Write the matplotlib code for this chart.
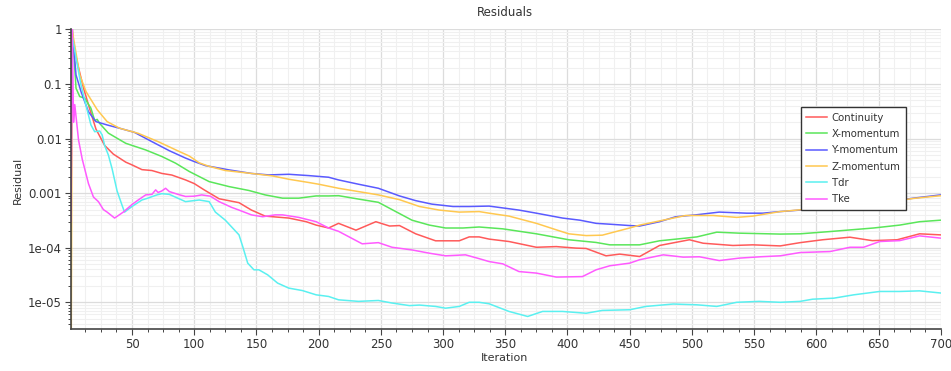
#!/usr/bin/env python3
"""
Grafico de residuos da simulacao (escala log) salvo em out.png.
"""

import matplotlib
matplotlib.use("Agg")
import matplotlib.pyplot as plt
from matplotlib.ticker import FuncFormatter, LogLocator, MultipleLocator, NullFormatter

# Continuity
cont_iter = [1, 3, 7, 11, 16, 21, 28, 35, 45, 50, 58, 66, 74, 82, 93, 100, 108, 120,
             136, 146, 157, 176, 190, 198, 208, 216, 230, 246, 257, 265, 278, 294,
             313, 321, 329, 337, 353, 375, 391, 407, 415, 431, 442, 458, 474, 498,
             509, 533, 549, 571, 587, 605, 627, 645, 665, 683, 700]
cont_res = [1.0, 0.5, 0.2, 0.085, 0.035, 0.015, 0.0075, 0.0052, 0.0037, 0.0033,
            0.0027, 0.0026, 0.0023, 0.00215, 0.00175, 0.0015, 0.00115, 0.00079,
            0.00067, 0.00049, 0.00038, 0.00035, 0.0003, 0.00026, 0.00023, 0.00028,
            0.00021, 0.0003, 0.00025, 0.000255, 0.00018, 0.000134, 0.000134,
            0.000158, 0.000158, 0.000144, 0.00013, 0.000102, 0.000105, 0.0000984,
            0.000097, 0.0000711, 0.0000764, 0.000069, 0.00011, 0.00014, 0.000121,
            0.00011, 0.000113, 0.000108, 0.000124, 0.00014, 0.000156, 0.000135,
            0.00014, 0.00018, 0.000172]

# X-momentum
xmom_iter = [1, 3, 5, 8, 12, 17, 20, 22, 24, 31, 45, 61, 74, 85, 96, 112, 128, 144,
             157, 171, 184, 198, 208, 216, 232, 248, 262, 275, 289, 302, 316, 329,
             348, 375, 401, 423, 434, 458, 474, 495, 504, 520, 538, 571, 587, 611,
             646, 667, 683, 700]
xmom_res = [1.0, 0.45, 0.084, 0.059, 0.055, 0.036, 0.0215, 0.0225, 0.019, 0.0126,
            0.0082, 0.0062, 0.0047, 0.00355, 0.0025, 0.00163, 0.00132, 0.00112,
            0.00093, 0.00081, 0.00081, 0.00089, 0.00089, 0.0009, 0.00078, 0.00068,
            0.00046, 0.00032, 0.00026, 0.00023, 0.00023, 0.00024, 0.000222, 0.00018,
            0.00014, 0.000125, 0.000113, 0.000113, 0.000134, 0.00015, 0.000158,
            0.000193, 0.000185, 0.000178, 0.00018, 0.000198, 0.00023, 0.00026,
            0.0003, 0.00032]

# Y-momentum
ymom_iter = [1, 2, 3, 5, 9, 15, 21, 30, 40, 52, 66, 80, 93, 100, 109, 128, 146, 160,
             176, 192, 208, 216, 232, 248, 265, 278, 291, 308, 321, 337, 361, 375,
             396, 410, 423, 434, 450, 458, 474, 487, 503, 522, 544, 557, 571, 597,
             624, 651, 678, 700]
ymom_res = [6e-4, 1.0, 0.52, 0.147, 0.073, 0.031, 0.0205, 0.0178, 0.0155, 0.013,
            0.0088, 0.006, 0.0044, 0.0038, 0.0032, 0.00267, 0.0023, 0.00216,
            0.00222, 0.0021, 0.00196, 0.00175, 0.00146, 0.00123, 0.00089, 0.00073,
            0.00063, 0.00057, 0.00057, 0.00058, 0.00049, 0.00043, 0.00035, 0.00032,
            0.00028, 0.00027, 0.000255, 0.00025, 0.0003, 0.00037, 0.0004, 0.00045,
            0.00043, 0.00043, 0.00046, 0.00051, 0.00057, 0.00066, 0.00081, 0.00093]

# Z-momentum
zmom_iter = [1, 2, 3, 8, 13, 22, 30, 40, 55, 71, 88, 96, 104, 112, 125, 146, 163,
             176, 192, 200, 216, 232, 248, 265, 281, 297, 313, 329, 337, 353, 375,
             391, 401, 415, 428, 439, 450, 458, 474, 495, 517, 536, 549, 571, 597,
             624, 651, 678, 700]
zmom_res = [1e-7, 1.0, 0.69, 0.147, 0.073, 0.034, 0.0205, 0.0155, 0.0125, 0.0088,
            0.0058, 0.0048, 0.0036, 0.0031, 0.0026, 0.0023, 0.00207, 0.0018,
            0.00157, 0.00146, 0.00123, 0.00107, 0.00093, 0.00076, 0.00057, 0.00049,
            0.00045, 0.00046, 0.00043, 0.00038, 0.00028, 0.000213, 0.00018,
            0.000167, 0.00017, 0.000198, 0.00023, 0.00026, 0.00031, 0.00039,
            0.00039, 0.00036, 0.00038, 0.00046, 0.00052, 0.00058, 0.00066, 0.0008,
            0.0009]

# Tdr
tdr_iter = [1, 5, 9, 13, 17, 20, 24, 26, 28, 31, 34, 38, 42, 44, 50, 58, 62, 70, 74,
            80, 93, 104, 112, 117, 125, 136, 139, 143, 148, 152, 159, 167, 176, 187,
            198, 208, 216, 232, 248, 259, 273, 281, 294, 302, 313, 321, 329, 337,
            353, 368, 380, 396, 415, 428, 450, 463, 485, 504, 520, 536, 554, 571,
            587, 597, 614, 630, 651, 667, 683, 700]
tdr_res = [1.0, 0.3, 0.096, 0.041, 0.0178, 0.0134, 0.0138, 0.0117, 0.0075, 0.005,
           0.0028, 0.0011, 0.0006, 0.00045, 0.00057, 0.00075, 0.0008, 0.00093,
           0.00098, 0.00095, 0.0007, 0.00075, 0.0007, 0.00045, 0.00032, 0.000172,
           0.000105, 0.0000522, 0.0000394, 0.0000394, 0.0000319, 0.0000225,
           0.0000182, 0.0000164, 0.0000137, 0.0000128, 0.0000111, 0.0000104,
           0.0000108, 0.0000097, 0.0000087, 0.0000089, 0.0000084, 0.0000078,
           0.0000084, 0.00001, 0.00001, 0.0000094, 0.0000068, 0.0000055, 0.0000068,
           0.0000068, 0.0000063, 0.0000071, 0.0000073, 0.0000084, 0.0000093,
           0.000009, 0.0000084, 0.00001, 0.0000104, 0.00001, 0.0000104, 0.0000114,
           0.0000119, 0.0000137, 0.0000158, 0.0000158, 0.0000162, 0.0000148]

# Tke
tke_iter = [1, 2, 3, 4, 7, 10, 15, 19, 23, 27, 30, 36, 43, 50, 55, 61, 66, 69, 71,
            74, 77, 80, 87, 93, 100, 106, 113, 120, 130, 136, 146, 155, 165, 171,
            184, 198, 208, 216, 235, 248, 259, 275, 289, 302, 318, 329, 337, 348,
            361, 375, 391, 412, 423, 434, 450, 458, 477, 493, 506, 522, 538, 555,
            571, 587, 611, 627, 638, 651, 667, 683, 700]
tke_res = [3e-4, 1.0, 0.02, 0.042, 0.0095, 0.0042, 0.0015, 0.00085, 0.0007, 0.0005,
           0.00045, 0.00035, 0.00045, 0.00062, 0.00075, 0.00093, 0.00095, 0.00115,
           0.00103, 0.0011, 0.00123, 0.00107, 0.00095, 0.00087, 0.00088, 0.00093,
           0.00088, 0.0007, 0.00055, 0.00049, 0.0004, 0.00037, 0.0004, 0.0004,
           0.00036, 0.0003, 0.00023, 0.0002, 0.000118, 0.000124, 0.000102,
           0.0000912, 0.0000794, 0.0000711, 0.0000741, 0.0000631, 0.0000558,
           0.0000507, 0.0000366, 0.0000343, 0.000029, 0.0000296, 0.0000394,
           0.0000467, 0.0000522, 0.0000603, 0.0000741, 0.0000673, 0.0000683,
           0.0000582, 0.0000645, 0.0000683, 0.0000711, 0.0000817, 0.0000851,
           0.000102, 0.000102, 0.00013, 0.000135, 0.000165, 0.00015]

# (legenda, iteracoes, residuos, cor)
SERIES = [
    ("Continuity", cont_iter, cont_res, "#ff5a5a"),
    ("X-momentum", xmom_iter, xmom_res, "#5ae65a"),
    ("Y-momentum", ymom_iter, ymom_res, "#5a5aff"),
    ("Z-momentum", zmom_iter, zmom_res, "#ffc850"),
    ("Tdr", tdr_iter, tdr_res, "#5af0f0"),
    ("Tke", tke_iter, tke_res, "#ff5aff"),
]

TEXT = "#333333"


def fmt_residual(v, _pos):
    if v >= 1e-3:
        return f"{v:g}"
    return f"{v:.0e}"


def main():
    fig = plt.figure(figsize=(9.51, 3.71), dpi=100)
    ax = fig.add_axes([0.0747, 0.1124, 0.9145, 0.8081])

    for label, it, res, color in SERIES:
        ax.plot(it, res, color=color, linewidth=1.1, label=label)

    ax.set_yscale("log")
    ax.set_xlim(1, 700)
    ax.set_ylim(3.2e-6, 1)

    ax.xaxis.set_major_locator(MultipleLocator(50))
    ax.xaxis.set_minor_locator(MultipleLocator(12.5))
    ax.yaxis.set_major_locator(LogLocator(base=10))
    ax.yaxis.set_minor_locator(LogLocator(base=10, subs=range(2, 10)))
    ax.yaxis.set_major_formatter(FuncFormatter(fmt_residual))
    ax.yaxis.set_minor_formatter(NullFormatter())

    ax.grid(True, which="major", color="#dcdcdc", linewidth=0.9)
    ax.grid(True, which="minor", color="#f0f0f0", linewidth=0.8)
    ax.set_axisbelow(True)

    for side in ("top", "right"):
        ax.spines[side].set_visible(False)
    for side in ("left", "bottom"):
        ax.spines[side].set_color("#444444")
        ax.spines[side].set_linewidth(1.2)

    ax.tick_params(which="major", direction="out", length=4, width=0.8,
                   color="#444444", labelsize=8.5, labelcolor=TEXT, pad=2.5)
    ax.tick_params(which="minor", direction="out", length=2.5, width=0.7,
                   color="#444444")

    leg = ax.legend(loc="upper left", bbox_to_anchor=(0.839, 0.741),
                    fontsize=7.3, frameon=True, fancybox=False, framealpha=1,
                    edgecolor="#333333", handlelength=2.0, handletextpad=0.5,
                    labelspacing=0.62, borderpad=0.55, borderaxespad=0)
    leg.get_frame().set_linewidth(1.0)
    for text in leg.get_texts():
        text.set_color(TEXT)

    fig.text(0.531, 0.965, "Residuals", ha="center", va="center",
             fontsize=8.5, color=TEXT)
    fig.text(0.019, 0.515, "Residual", ha="center", va="center",
             rotation=90, fontsize=8, color=TEXT)
    fig.text(0.531, 0.035, "Iteration", ha="center", va="center",
             fontsize=8, color=TEXT)

    fig.savefig("out.png", dpi=100, facecolor="white")


if __name__ == "__main__":
    main()
